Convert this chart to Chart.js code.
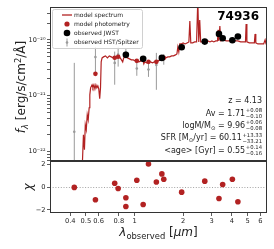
<!DOCTYPE html>
<html>
<head>
<meta charset="utf-8">
<script src="https://cdn.jsdelivr.net/npm/chart.js@4.4.1/dist/chart.umd.min.js"></script>
<style>
  html, body { margin: 0; padding: 0; background: #fff; }
  #wrap { position: relative; width: 274px; height: 249px; }
  #wrap canvas { position: absolute; left: 0; top: 0; }
</style>
</head>
<body>
<div id="wrap">
  <canvas id="sedChart" width="274" height="249"></canvas>
  <canvas id="chiChart" width="274" height="249"></canvas>
</div>
<script>
// ---- values ----
// model spectrum: observed wavelength [um], flux [1e-21 erg/s/cm2/A]
const specWave = [0.445, 0.476, 0.483, 0.490, 0.496, 0.503, 0.510, 0.517, 0.524, 0.529,
  0.535, 0.546, 0.553, 0.561, 0.569, 0.577, 0.585, 0.593, 0.601, 0.609,
  0.616, 0.622, 0.630, 0.643, 0.661, 0.680, 0.698, 0.718, 0.737, 0.758,
  0.779, 0.800, 0.823, 0.845, 0.857, 0.881, 0.905, 0.930, 0.956, 0.982,
  1.010, 1.038, 1.066, 1.096, 1.126, 1.142, 1.157, 1.190, 1.222, 1.256,
  1.291, 1.327, 1.363, 1.401, 1.440, 1.480, 1.521, 1.563, 1.606, 1.651,
  1.696, 1.743, 1.792, 1.829, 1.854, 1.879, 1.905, 1.945, 1.998, 2.054,
  2.111, 2.169, 2.199, 2.229, 2.291, 2.355, 2.420, 2.463, 2.497, 2.531,
  2.567, 2.627, 2.699, 2.774, 2.850, 2.929, 3.010, 3.094, 3.180, 3.260,
  3.290, 3.326, 3.372, 3.418, 3.546, 3.695, 3.849, 4.011, 4.178, 4.353,
  4.535, 4.725, 4.857, 4.902, 4.956, 5.128, 5.343, 5.513, 5.567, 5.628,
  5.800, 6.040, 6.294, 6.424, 6.514, 6.647];
const specFlux = [0.0139, 0.0637, 0.201, 0.109, 0.303, 0.247, 0.458, 0.373, 0.611, 1.04,
  1.39, 1.57, 1.39, 1.57, 1.33, 1.57, 1.39, 1.51, 1.33, 0.884,
  1.39, 4.05, 4.77, 4.97, 5.18, 4.77, 5.18, 4.97, 4.77, 4.97,
  4.77, 5.18, 4.58, 4.05, 4.77, 4.97, 4.77, 4.58, 4.39, 4.39,
  4.22, 4.22, 4.05, 4.22, 4.39, 3.73, 4.05, 3.88, 4.05, 4.05,
  3.88, 4.05, 4.05, 4.22, 4.39, 4.58, 4.77, 4.77, 4.97, 4.97,
  5.18, 5.18, 5.40, 5.62, 7.50, 6.11, 8.48, 8.48, 8.84, 8.48,
  8.84, 9.21, 21.8, 8.84, 8.84, 9.21, 9.21, 51.8, 9.21, 22.8,
  9.21, 9.21, 9.59, 9.21, 9.59, 9.21, 9.59, 9.21, 9.59, 9.59,
  15.1, 9.59, 17.8, 9.59, 10.0, 9.59, 9.59, 10.0, 9.59, 9.59,
  9.21, 9.21, 9.21, 19.3, 9.21, 8.84, 8.84, 8.84, 12.8, 8.84,
  8.48, 8.48, 8.48, 10.0, 8.48, 8.48];

// all photometric bands (sorted), model photometry [1e-21] and chi residuals
const bandWave = [0.424, 0.573, 0.754, 0.792, 0.884, 0.884, 1.033, 1.131, 1.22,
  1.365, 1.476, 1.517, 1.957, 2.72, 3.33, 3.51, 4.03, 4.36];
const modelPhot = [0.05, 2.47, 4.8, 5.0, 5.3, 5.3, 4.22, 4.45, 4.05,
  4.05, 4.7, 4.77, 7.5, 9.4, 12.5, 10.5, 9.9, 11.3];
const chiValues = [-0.02, -1.11, 0.35, -0.12, -0.94, -1.70, 0.61, -1.53, 2.04,
  0.46, 1.17, 0.70, -0.44, 0.53, -1.00, 0.23, 0.70, -1.29];

// observed JWST
const jwstWave = [0.884, 1.131, 1.476, 1.957, 2.72, 3.33, 3.51, 4.03, 4.36];
const jwstFlux = [5.40, 4.58, 4.77, 7.41, 9.33, 12.8, 10.7, 9.88, 11.5];

// observed HST/Spitzer with 1-sigma errors
const hstWave = [0.424, 0.573, 0.754, 0.792, 0.884, 1.033, 1.22, 1.365, 1.517];
const hstFlux = [0.228, 4.93, 3.88, 5.46, 6.0, 3.08, 2.96, 3.57, 4.6];
const hstErr = [3.66, 2.56, 2.30, 2.13, 1.2, 0.8, 0.78, 2.29, 1.0];

// axes
const xTickValues = [0.4, 0.5, 0.6, 0.8, 1, 2, 3, 4, 5, 6];
const chiTickValues = [-2, 0, 2];
const xRange = [0.337, 6.6];
const fluxRange = [6.82e-23, 3.88e-20];
const chiRange = [-2.28, 2.31];
const FLUX_UNIT = 1e-21;

const RED = '#b22222';
const GRAY = '#9a9a9a';
const INK = '#222';
const FONT = '"DejaVu Sans"';

const toPoints = (xs, ys, unit) => xs.map((x, i) => ({x: x, y: ys[i] * unit}));

// error bars as broken line segments
const hstBars = [];
hstWave.forEach((w, i) => {
  const lo = Math.max(hstFlux[i] - hstErr[i], 1e-4);
  hstBars.push({x: w, y: lo * FLUX_UNIT}, {x: w, y: (hstFlux[i] + hstErr[i]) * FLUX_UNIT}, {x: w, y: null});
});

const SUP = {'-': '⁻', '0': '⁰', '1': '¹', '2': '²', '3': '³', '4': '⁴', '5': '⁵', '6': '⁶', '7': '⁷', '8': '⁸', '9': '⁹'};

// draws a row of text pieces; pieces may carry a stacked sup/sub pair
function drawRich(ctx, parts, x, y, align) {
  const fontOf = p => `${p.italic ? 'italic ' : ''}${p.bold ? 'bold ' : ''}${p.size}px ${FONT}`;
  let total = 0;
  parts.forEach(p => {
    ctx.font = fontOf(p);
    if (p.sup !== undefined) {
      p.w = Math.max(ctx.measureText(p.sup).width, ctx.measureText(p.sub).width) + 0.6;
    } else {
      p.w = ctx.measureText(p.t).width;
    }
    total += p.w;
  });
  let cx = align === 'right' ? x - total : align === 'center' ? x - total / 2 : x;
  ctx.textAlign = 'left';
  ctx.textBaseline = 'alphabetic';
  parts.forEach(p => {
    ctx.font = fontOf(p);
    if (p.sup !== undefined) {
      ctx.fillText(p.sup, cx + 0.6, y - 3.4);
      ctx.fillText(p.sub, cx + 0.6, y + 2.3);
    } else {
      ctx.fillText(p.t, cx, y + (p.dy || 0));
    }
    cx += p.w;
  });
}

function drawFrame(ctx, area) {
  ctx.strokeStyle = '#333';
  ctx.lineWidth = 1;
  ctx.strokeRect(Math.round(area.left) + 0.5, Math.round(area.top) + 0.5,
    Math.round(area.right - area.left) - 1, Math.round(area.bottom - area.top) - 1);
}

// frame, legend, id and fit parameters of the SED panel
const sedDecor = {
  id: 'sedDecor',
  afterDraw(chart) {
    const {ctx, chartArea} = chart;
    ctx.save();
    drawFrame(ctx, chartArea);

    // legend
    ctx.beginPath();
    ctx.roundRect(52.5, 9.5, 90, 39, 2);
    ctx.fillStyle = 'rgba(255,255,255,0.85)';
    ctx.fill();
    ctx.strokeStyle = '#d0d0d0';
    ctx.lineWidth = 1;
    ctx.stroke();

    const rows = [15, 24, 33, 42.5];
    ctx.strokeStyle = RED; ctx.lineWidth = 1.3;
    ctx.beginPath(); ctx.moveTo(62, rows[0]); ctx.lineTo(72, rows[0]); ctx.stroke();
    ctx.fillStyle = RED;
    ctx.beginPath(); ctx.arc(67, rows[1], 2.6, 0, 2 * Math.PI); ctx.fill();
    ctx.fillStyle = '#000';
    ctx.beginPath(); ctx.arc(67, rows[2], 3.3, 0, 2 * Math.PI); ctx.fill();
    ctx.strokeStyle = GRAY; ctx.lineWidth = 1;
    ctx.beginPath(); ctx.moveTo(67, rows[3] - 4); ctx.lineTo(67, rows[3] + 4); ctx.stroke();
    ctx.fillStyle = GRAY;
    ctx.beginPath(); ctx.arc(67, rows[3], 1.3, 0, 2 * Math.PI); ctx.fill();

    ctx.fillStyle = INK;
    ctx.font = `6px ${FONT}`;
    ctx.textAlign = 'left';
    ctx.textBaseline = 'middle';
    ['model spectrum', 'model photometry', 'observed JWST', 'observed HST/Spitzer']
      .forEach((t, i) => ctx.fillText(t, 74, rows[i] + 0.3));

    // object id
    ctx.fillStyle = '#000';
    ctx.font = `bold 12px ${FONT}`;
    ctx.textAlign = 'right';
    ctx.textBaseline = 'alphabetic';
    ctx.fillText('74936', 259, 20);

    // fit parameters
    ctx.fillStyle = INK;
    const R = 262;
    drawRich(ctx, [{t: 'z = 4.13', size: 8}], R, 103, 'right');
    drawRich(ctx, [{t: 'Av = 1.71', size: 8}, {sup: '+0.08', sub: '−0.10', size: 5.3}], R, 115.5, 'right');
    drawRich(ctx, [{t: 'logM/M', size: 8}, {t: '⊙', size: 5.5, dy: 1.8}, {t: ' = 9.96', size: 8},
      {sup: '+0.06', sub: '−0.08', size: 5.3}], R, 127.8, 'right');
    drawRich(ctx, [{t: 'SFR [M', size: 8}, {t: '⊙', size: 5.5, dy: 1.8}, {t: '/yr] = 60.11', size: 8},
      {sup: '+13.33', sub: '−33.21', size: 5.3}], R, 140.2, 'right');
    drawRich(ctx, [{t: '<age> [Gyr] = 0.55', size: 8}, {sup: '+0.14', sub: '−0.16', size: 5.3}], R, 152.5, 'right');

    // y axis title
    ctx.save();
    ctx.translate(25, 87);
    ctx.rotate(-Math.PI / 2);
    drawRich(ctx, [{t: 'f', size: 12, italic: true}, {t: 'λ', size: 8.4, italic: true, dy: 2.5},
      {t: ' [erg/s/cm', size: 12}, {t: '2', size: 8.4, dy: -4.5}, {t: '/Å]', size: 12}], 0, 0, 'center');
    ctx.restore();
    ctx.restore();
  }
};

const configSed = {
  type: 'scatter',
  data: {
    datasets: [
      {label: 'observed JWST', data: toPoints(jwstWave, jwstFlux, FLUX_UNIT),
        backgroundColor: '#000', borderWidth: 0, pointRadius: 3.3, order: 0},
      {label: 'model photometry', data: toPoints(bandWave, modelPhot, FLUX_UNIT),
        backgroundColor: RED, borderWidth: 0, pointRadius: 2.3, order: 1},
      {label: 'observed HST/Spitzer', data: toPoints(hstWave, hstFlux, FLUX_UNIT),
        backgroundColor: GRAY, borderWidth: 0, pointRadius: 1.3, order: 2},
      {label: 'HST errors', data: hstBars, showLine: true, spanGaps: false,
        borderColor: GRAY, borderWidth: 1, pointRadius: 0, order: 3},
      {label: 'model spectrum', data: toPoints(specWave, specFlux, FLUX_UNIT), showLine: true,
        borderColor: RED, borderWidth: 1.2, pointRadius: 0, order: 4}
    ]
  },
  options: {
    responsive: false,
    animation: false,
    devicePixelRatio: 1,
    events: [],
    layout: {padding: {left: 0, top: 7, right: 7, bottom: 88}},
    plugins: {legend: {display: false}, tooltip: {enabled: false}},
    scales: {
      x: {type: 'logarithmic', min: xRange[0], max: xRange[1], display: false},
      y: {
        type: 'logarithmic',
        min: fluxRange[0],
        max: fluxRange[1],
        afterFit(scale) { scale.width = 50; },
        afterBuildTicks(scale) {
          const ticks = [];
          for (let e = Math.floor(Math.log10(fluxRange[0])); e <= Math.floor(Math.log10(fluxRange[1])); e++) {
            for (let m = 1; m <= 9; m++) {
              const v = m * Math.pow(10, e);
              if (v >= fluxRange[0] && v <= fluxRange[1]) ticks.push({value: v, major: m === 1});
            }
          }
          scale.ticks = ticks;
        },
        ticks: {
          font: {family: 'DejaVu Sans', size: 6.5},
          color: INK,
          padding: 1.5,
          autoSkip: false,
          callback(value) {
            const e = Math.log10(value);
            if (Math.abs(e - Math.round(e)) > 1e-6) return '';
            return '10' + String(Math.round(e)).split('').map(c => SUP[c]).join('');
          }
        },
        grid: {drawOnChartArea: false, tickLength: 3, color: '#333', lineWidth: 0.8},
        border: {display: false}
      }
    }
  },
  plugins: [sedDecor]
};

// frame, zero line and labels of the residual panel
const chiDecor = {
  id: 'chiDecor',
  beforeDatasetsDraw(chart) {
    const {ctx, chartArea: {left, right}, scales: {y}} = chart;
    const y0 = Math.round(y.getPixelForValue(0)) + 0.5;
    ctx.save();
    ctx.strokeStyle = '#999';
    ctx.lineWidth = 0.9;
    ctx.setLineDash([1, 1.7]);
    ctx.beginPath(); ctx.moveTo(left, y0); ctx.lineTo(right, y0); ctx.stroke();
    ctx.restore();
  },
  afterDraw(chart) {
    const {ctx, chartArea} = chart;
    ctx.save();
    drawFrame(ctx, chartArea);
    ctx.fillStyle = INK;
    // chi label
    ctx.save();
    ctx.translate(32, 187);
    ctx.rotate(-Math.PI / 2);
    drawRich(ctx, [{t: 'χ', size: 12, italic: true}], 0, 0, 'center');
    ctx.restore();
    // x axis title
    drawRich(ctx, [{t: 'λ', size: 12, italic: true}, {t: 'observed', size: 8.4, dy: 2.5},
      {t: ' [', size: 12}, {t: 'μm', size: 12, italic: true}, {t: ']', size: 12}],
      (chartArea.left + chartArea.right) / 2, 236, 'center');
    ctx.restore();
  }
};

const configChi = {
  type: 'scatter',
  data: {
    datasets: [
      {label: 'chi', data: bandWave.map((w, i) => ({x: w, y: chiValues[i]})),
        backgroundColor: RED, borderWidth: 0, pointRadius: 2.8}
    ]
  },
  options: {
    responsive: false,
    animation: false,
    devicePixelRatio: 1,
    events: [],
    layout: {padding: {left: 0, top: 161, right: 7, bottom: 0}},
    plugins: {legend: {display: false}, tooltip: {enabled: false}},
    scales: {
      x: {
        type: 'logarithmic',
        min: xRange[0],
        max: xRange[1],
        afterFit(scale) { scale.height = 36; },
        afterBuildTicks(scale) { scale.ticks = xTickValues.map(v => ({value: v})); },
        ticks: {
          font: {family: 'DejaVu Sans', size: 6.7},
          color: INK,
          padding: 1,
          autoSkip: false,
          maxRotation: 0,
          callback: value => String(value)
        },
        grid: {drawOnChartArea: false, tickLength: 3, color: '#333', lineWidth: 0.8},
        border: {display: false}
      },
      y: {
        min: chiRange[0],
        max: chiRange[1],
        afterFit(scale) { scale.width = 50; },
        afterBuildTicks(scale) { scale.ticks = chiTickValues.map(v => ({value: v})); },
        ticks: {
          font: {family: 'DejaVu Sans', size: 6.7},
          color: INK,
          padding: 1.5,
          callback: value => String(value).replace('-', '−')
        },
        grid: {drawOnChartArea: false, tickLength: 3, color: '#333', lineWidth: 0.8},
        border: {display: false}
      }
    }
  },
  plugins: [chiDecor]
};

const sedChart = new Chart(document.getElementById('sedChart'), configSed);
const chiChart = new Chart(document.getElementById('chiChart'), configChi);
</script>
</body>
</html>
